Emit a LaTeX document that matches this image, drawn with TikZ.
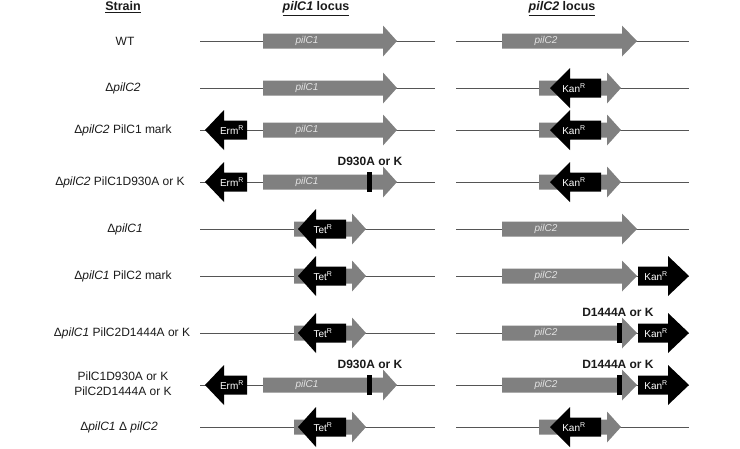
\documentclass[tikz,border=0pt]{standalone}
\usepackage{fontspec}
\setmainfont{Liberation Sans}
\definecolor{genegray}{HTML}{808080}
\definecolor{linegray}{HTML}{555555}
\definecolor{lblgray}{HTML}{E3E3E3}
\definecolor{txt}{HTML}{1A1A1A}
% gray gene arrow pointing right: start, head base, tip, y
\newcommand{\grr}[4]{\fill[genegray] (#1,#4-7.5) -- (#2,#4-7.5) -- (#2,#4-15.5) -- (#3,#4) -- (#2,#4+15.5) -- (#2,#4+7.5) -- (#1,#4+7.5) -- cycle;}
% black marker arrow pointing left: tip, head base, end, y
\newcommand{\blk}[4]{\fill[black] (#1,#4) -- (#2,#4-20) -- (#2,#4-9.5) -- (#3,#4-9.5) -- (#3,#4+9.5) -- (#2,#4+9.5) -- (#2,#4+20) -- cycle;}
% black marker arrow pointing right: start, head base, tip, y
\newcommand{\brk}[4]{\fill[black] (#1,#4-9.5) -- (#2,#4-9.5) -- (#2,#4-20) -- (#3,#4) -- (#2,#4+20) -- (#2,#4+9.5) -- (#1,#4+9.5) -- cycle;}
\tikzset{
  strainlbl/.style={font=\fontsize{12}{15}\selectfont, text=txt, align=center, inner sep=0pt},
  head/.style={font=\fontsize{12.5}{14}\selectfont\bfseries, text=txt, inner sep=0pt},
  genelbl/.style={font=\fontsize{10}{12}\selectfont\itshape, text=lblgray, inner sep=0pt},
  marklbl/.style={font=\fontsize{10}{12}\selectfont, text=white, inner sep=0pt},
  mutlbl/.style={font=\fontsize{12}{14}\selectfont\bfseries, text=txt, inner sep=0pt},
  locusline/.style={draw=linegray, line width=0.9pt},
}
\begin{document}
\begin{tikzpicture}[x=1pt,y=-1pt]
\useasboundingbox (0,0) rectangle (740,448);
% headers
\node[head, anchor=north] (hstrain) at (123,1.5) {\underline{Strain}};
\node[head, anchor=north] (hc1) at (316,1.5) {\underline{\textit{pilC1} locus}};
\node[head, anchor=north] (hc2) at (562,1.5) {\underline{\textit{pilC2} locus}};
% strain labels
\node[strainlbl] (s1) at (125,41) {WT};
\node[strainlbl] (s2) at (123,88) {Δ\textit{pilC2}};
\node[strainlbl] (s3) at (123,130) {Δ\textit{pilC2} PilC1 mark};
\node[strainlbl] (s4) at (120,182) {Δ\textit{pilC2} PilC1D930A or K};
\node[strainlbl] (s5) at (125,229) {Δ\textit{pilC1}};
\node[strainlbl] (s6) at (123,276) {Δ\textit{pilC1} PilC2 mark};
\node[strainlbl] (s7) at (122,333) {Δ\textit{pilC1} PilC2D1444A or K};
\node[strainlbl] (s8) at (123,384) {PilC1D930A or K\\PilC2D1444A or K};
\node[strainlbl] (s9) at (119,427) {Δ\textit{pilC1} Δ \textit{pilC2}};
% locus lines
\foreach \y/\n in {41/1,88/2,130/3,182/4,229/5,276/6,333/7,385/8,427/9}{
  \coordinate (la\n) at (200,\y); \coordinate (lb\n) at (435,\y);
  \coordinate (ra\n) at (456,\y); \coordinate (rb\n) at (689,\y);
  \draw[locusline] (la\n) -- (lb\n);
  \draw[locusline] (ra\n) -- (rb\n);
}
% ---- pilC1 locus ----
\foreach \y in {41,88,130,182,385}{
  \grr{263}{383}{397}{\y}
  \node[genelbl] at (307,\y) {pilC1};
}
% Erm markers
\foreach \y in {130,182,385}{
  \blk{205}{224}{247}{\y}
  \node[marklbl] at (232,\y) {Erm\textsuperscript{R}};
}
% D930A mutations
\foreach \y/\n in {182/a,385/b}{
  \fill[black] (367,\y-10) rectangle (372,\y+10);
  \node[mutlbl] (m930\n) at (370,\y-21) {D930A or K};
}
% Tet constructs
\foreach \y in {229,276,333,427}{
  \grr{294}{352}{366}{\y}
  \blk{298}{316}{346}{\y}
  \node[marklbl] at (323,\y) {Tet\textsuperscript{R}};
}
% ---- pilC2 locus ----
\foreach \y in {41,229,276,333,385}{
  \grr{502}{622}{637}{\y}
  \node[genelbl] at (546,\y) {pilC2};
}
% Kan constructs (deletion)
\foreach \y in {88,130,182,427}{
  \grr{539}{607}{621}{\y}
  \blk{550}{570}{601}{\y}
  \node[marklbl] at (574,\y) {Kan\textsuperscript{R}};
}
% Kan downstream markers
\foreach \y in {276,333,385}{
  \brk{638}{668}{689}{\y}
  \node[marklbl] at (656,\y) {Kan\textsuperscript{R}};
}
% D1444A mutations
\foreach \y/\n in {333/a,385/b}{
  \fill[black] (617,\y-10) rectangle (622,\y+10);
  \node[mutlbl] (m1444\n) at (618,\y-20.5) {D1444A or K};
}
\end{tikzpicture}
\end{document}
